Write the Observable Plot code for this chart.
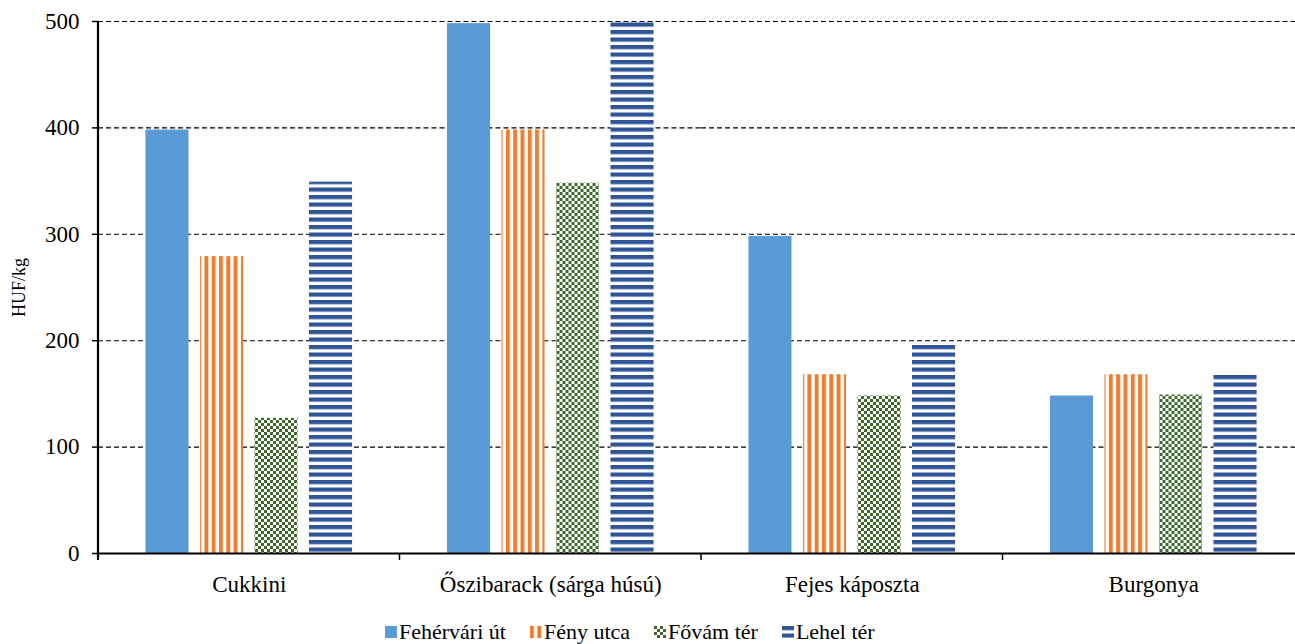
<!DOCTYPE html>
<html>
<head>
<meta charset="utf-8">
<script src="https://cdn.jsdelivr.net/npm/d3@7"></script>
<script src="https://cdn.jsdelivr.net/npm/@observablehq/plot@0.6"></script>
<style>
  html, body { margin: 0; padding: 0; background: white; overflow: hidden; width: 1295px; height: 644px; }
  #wrap { position: relative; width: 1295px; height: 644px; overflow: hidden; }
  #chart { width: 1304px; }
  #chart svg { max-width: none !important; width: 1304px !important; height: 600px !important; }
  #legend { position: absolute; top: 621px; left: 385px; font-family: "Liberation Serif", "Times New Roman", Times, serif; font-size: 22px; line-height: 22px; white-space: nowrap; color: black; }
  #legend .item { display: inline-block; margin-right: 24px; }
  #legend svg { display: inline-block; vertical-align: baseline; margin-right: 2px; margin-bottom: 1px; }
  #chart svg, #chart svg text { font-family: "Liberation Serif", "Times New Roman", Times, serif !important; }
</style>
</head>
<body>
<svg width="0" height="0" style="position:absolute">
  <defs>
    <pattern id="pFeny" patternUnits="userSpaceOnUse" width="7.3" height="8">
      <rect width="7.3" height="8" fill="white"/>
      <rect x="0" y="0" width="4" height="8" fill="#ED7D31"/>
    </pattern>
    <pattern id="pFovam" patternUnits="userSpaceOnUse" width="6" height="6">
      <rect width="6" height="6" fill="white"/>
      <rect x="0" y="0" width="3" height="3" fill="#3d6a2b"/>
      <rect x="3" y="3" width="3" height="3" fill="#3d6a2b"/>
    </pattern>
    <pattern id="pLehel" patternUnits="userSpaceOnUse" width="8" height="7.5">
      <rect width="8" height="7.5" fill="white"/>
      <rect x="0" y="0" width="8" height="4.2" fill="#2F5597"/>
    </pattern>
  </defs>
</svg>
<div id="wrap">
  <div id="chart"></div>
  <div id="legend"></div>
</div>
<script>
const categories = ["Cukkini", "Őszibarack (sárga húsú)", "Fejes káposzta", "Burgonya"];
const series = ["Fehérvári út", "Fény utca", "Fővám tér", "Lehel tér"];
const fehervariUt = [398, 498, 298, 148];
const fenyUtca = [279, 398, 168, 168];
const fovamTer = [127, 348, 148, 149];
const lehelTer = [349, 499, 198, 168];
const yTicks = [0, 100, 200, 300, 400, 500];
const gridTicks = [100, 200, 300, 400, 500];

const fills = ["#5B9BD5", "url(#pFeny)", "url(#pFovam)", "url(#pLehel)"];
const seriesValues = [fehervariUt, fenyUtca, fovamTer, lehelTer];

const data = categories.flatMap((c, i) =>
  series.map((s, j) => ({cat: c, series: s, value: seriesValues[j][i]}))
);

const chart = Plot.plot({
  width: 1304,
  height: 600,
  marginLeft: 98,
  marginRight: 0,
  marginTop: 21,
  marginBottom: 47,
  style: {fontFamily: "'Liberation Serif', 'Times New Roman', Times, serif", fontSize: "23px", color: "black", background: "white", overflow: "visible"},
  fx: {domain: categories, padding: 0, label: null, round: false},
  x: {domain: series, paddingInner: 0.21, paddingOuter: 0.87, axis: null, round: false},
  y: {domain: [0, 500]},
  color: {domain: series, range: fills},
  marks: [
    Plot.ruleY(gridTicks, {stroke: "black", strokeDasharray: "5,3", strokeWidth: 1.1}),
    Plot.barY(data, {fx: "cat", x: "series", y: "value", fill: "series"}),
    Plot.ruleY([0], {stroke: "black", strokeWidth: 2.2}),
    Plot.axisY({ticks: yTicks, tickSize: 6, tickPadding: 13, label: null, strokeWidth: 1.5, fontSize: 23}),
    Plot.text(["HUF/kg"], {fx: () => categories[0], frameAnchor: "left", rotate: -90, dx: -79, fontSize: 18, textAnchor: "middle", lineAnchor: "middle"}),
    Plot.axisFx({anchor: "bottom", tickSize: 0, tickPadding: 22, label: null, fontSize: 23})
  ]
});

document.getElementById("chart").appendChild(chart);

// axis lines and category boundary ticks, placed with the plot's own scales
const fx = chart.scale("fx");
const y = chart.scale("y");
const svg = d3.select(chart);
const g = svg.append("g").attr("stroke", "black");
const left = fx.apply(categories[0]);
g.append("line")
  .attr("x1", left).attr("x2", left)
  .attr("y1", y.apply(500)).attr("y2", y.apply(0) + 7)
  .attr("stroke-width", 2.2);
const bw = fx.bandwidth;
categories.forEach((c) => {
  const xs = fx.apply(c) + bw;
  g.append("line")
    .attr("x1", xs).attr("x2", xs)
    .attr("y1", y.apply(0)).attr("y2", y.apply(0) + 7)
    .attr("stroke-width", 1.5);
});

// legend
const legend = document.getElementById("legend");
series.forEach((s, j) => {
  const item = document.createElement("span");
  item.className = "item";
  item.innerHTML = `<svg width="12" height="12"><rect width="12" height="12" fill="${fills[j]}"/></svg>${s}`;
  legend.appendChild(item);
});
</script>
</body>
</html>
